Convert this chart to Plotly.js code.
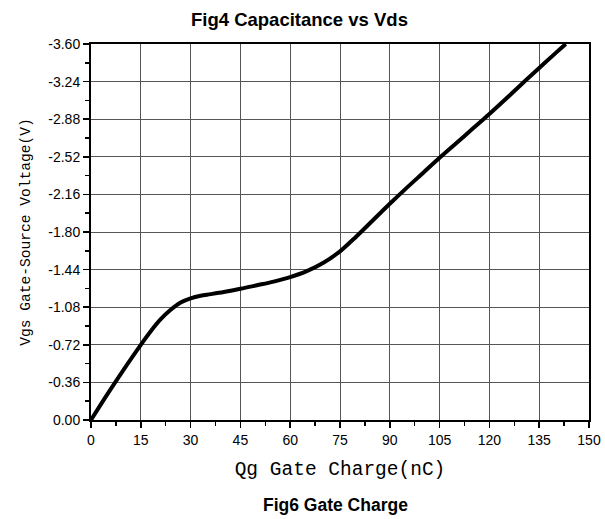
<!DOCTYPE html>
<html>
<head>
<meta charset="utf-8">
<script src="https://cdn.plot.ly/plotly-3.0.1.min.js"></script>
<style>html,body{margin:0;padding:0;background:#fff;}#chart{width:605px;height:519px;}</style>
</head>
<body>
<div id="chart"></div>
<script>
const qg = [0, 5, 10, 15, 18, 21, 24, 27, 30, 33, 36, 40, 45, 50, 55, 60, 65, 70, 75, 80, 85, 90, 95, 100, 105, 110, 115, 120, 125, 130, 135, 140, 143];
const vgs = [0, -0.25, -0.49, -0.72, -0.85, -0.965, -1.055, -1.125, -1.165, -1.19, -1.205, -1.226, -1.256, -1.29, -1.325, -1.368, -1.425, -1.505, -1.615, -1.76, -1.915, -2.07, -2.22, -2.365, -2.51, -2.65, -2.79, -2.93, -3.075, -3.225, -3.37, -3.515, -3.60];
const xTicks = [0, 15, 30, 45, 60, 75, 90, 105, 120, 135, 150];
const yTicks = [0, -0.36, -0.72, -1.08, -1.44, -1.80, -2.16, -2.52, -2.88, -3.24, -3.60];

const trace = {
  x: qg, y: vgs, type: 'scatter', mode: 'lines',
  line: {color: '#000', width: 4, shape: 'spline', smoothing: 1},
  hoverinfo: 'skip'
};

const layout = {
  width: 605, height: 519,
  margin: {l: 91, r: 16, t: 44, b: 99},
  paper_bgcolor: '#fff', plot_bgcolor: '#fff',
  showlegend: false,
  font: {family: 'Liberation Sans, Arial, sans-serif', color: '#000', size: 12},
  title: {
    text: '<b>Fig4 Capacitance vs Vds</b>',
    font: {family: 'Liberation Sans, Arial, sans-serif', size: 18.5, color: '#000'},
    x: 0.495, xanchor: 'center', y: 0.963, yanchor: 'middle'
  },
  xaxis: {
    range: [0, 150], tickvals: xTicks, ticktext: xTicks.map(String),
    ticks: 'outside', ticklen: 6, tickwidth: 1.5, tickcolor: '#000',
    showline: true, linecolor: '#000', linewidth: 2, mirror: true,
    showgrid: true, gridcolor: '#555', gridwidth: 1, zeroline: false,
    tickfont: {size: 14, family: 'Liberation Sans, Arial, sans-serif'},
    minor: {dtick: 7.5, tick0: 0, ticks: 'outside', ticklen: 4, tickcolor: '#000', tickwidth: 1.5, showgrid: false},
    title: {text: 'Qg Gate Charge(nC)', font: {family: 'Liberation Mono, DejaVu Sans Mono, monospace', size: 19.5, color: '#000'}, standoff: 15}
  },
  yaxis: {
    range: [0, -3.6], tickvals: yTicks, ticktext: yTicks.map(v => v.toFixed(2)),
    ticks: 'outside', ticklen: 6, tickwidth: 1.5, tickcolor: '#000',
    showline: true, linecolor: '#000', linewidth: 2, mirror: true,
    showgrid: true, gridcolor: '#555', gridwidth: 1, zeroline: false,
    tickfont: {size: 14, family: 'Liberation Sans, Arial, sans-serif'},
    minor: {dtick: 0.18, tick0: 0, ticks: 'outside', ticklen: 4, tickcolor: '#000', tickwidth: 1.5, showgrid: false},
    title: {text: 'Vgs Gate-Source Voltage(V)', font: {family: 'Liberation Mono, DejaVu Sans Mono, monospace', size: 14.6, color: '#000'}, standoff: 14}
  },
  annotations: [{
    text: '<b>Fig6 Gate Charge</b>', xref: 'paper', yref: 'paper',
    x: 0.49, y: -0.226, xanchor: 'center', yanchor: 'middle', showarrow: false,
    font: {family: 'Liberation Sans, Arial, sans-serif', size: 17.5, color: '#000'}
  }]
};

Plotly.newPlot('chart', [trace], layout, {displayModeBar: false, staticPlot: true});
</script>
</body>
</html>
